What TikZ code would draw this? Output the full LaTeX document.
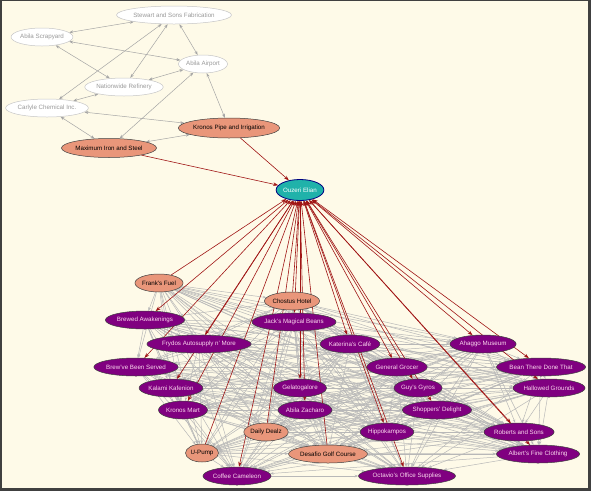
\documentclass[tikz,border=0pt]{standalone}
\usepackage{fontspec}
\setmainfont{Liberation Sans}
\usetikzlibrary{shapes.geometric,arrows.meta}
\definecolor{bgc}{HTML}{FEFAE8}
\definecolor{salm}{HTML}{E9967A}
\definecolor{purp}{HTML}{800080}
\definecolor{teal2}{HTML}{20B2AA}
\definecolor{redl}{HTML}{A01515}
\definecolor{greyl}{HTML}{B8B8B8}
\pgfdeclarelayer{back}
\pgfdeclarelayer{bg}
\pgfsetlayers{back,bg,main}
\tikzset{
  base/.style={ellipse, inner sep=0pt, minimum height=18pt, font=\fontsize{6.2}{7}\selectfont, line width=0.5pt},
  wnode/.style={base, draw=gray!45, fill=white, text=gray!80, minimum width=#1},
  snode/.style={base, draw=black!75, fill=salm, text=black, minimum width=#1},
  pnode/.style={base, draw=black!75, fill=purp, text=white!85!magenta, minimum width=#1},
  tnode/.style={base, draw=blue!50!black, line width=0.8pt, fill=teal2, text=white, minimum width=#1, minimum height=21pt},
  garr/.style={greyl!90!black, line width=0.5pt, {Stealth[length=4pt,width=3pt]}-{Stealth[length=4pt,width=3pt]}},
  web/.style={greyl, line width=0.5pt, -{Stealth[length=3.5pt,width=2.6pt]}},
  redone/.style={redl, line width=0.6pt, -{Stealth[length=5pt,width=3.6pt]}},
  redtwo/.style={redl, line width=0.6pt, {Stealth[length=5pt,width=3.6pt]}-{Stealth[length=5pt,width=3.6pt]}},
}
\begin{document}
\begin{tikzpicture}[x=1pt,y=-1pt]
\useasboundingbox (0,0) rectangle (591,491);
\begin{pgfonlayer}{back}
\fill[bgc] (0,0) rectangle (591,491);
\draw[black!75, line width=1pt] (0,0.5) -- (591,0.5);
\draw[black!75, line width=1.5pt] (0.75,0) -- (0.75,491);
\draw[black!75, line width=3pt] (589.5,0) -- (589.5,489.5) -- (0,489.5);
\end{pgfonlayer}
% top cluster
\node[wnode=111] (sts) at (174,15) {Stewart and Sons Fabrication};
\node[wnode=61] (scr) at (42,37) {Abila Scrapyard};
\node[wnode=49] (air) at (203,64) {Abila Airport};
\node[wnode=77] (nat) at (124,87) {Nationwide Refinery};
\node[wnode=81] (car) at (47,108) {Carlyle Chemical Inc.};
\node[snode=99, minimum height=20pt] (kpi) at (229,128) {Kronos Pipe and Irrigation};
\node[snode=93, minimum height=19pt] (mis) at (109,148) {Maximum Iron and Steel};
\node[tnode=47] (ouz) at (300,190) {Ouzeri Elian};
% bottom cluster
\node[snode=47] (ff) at (159,283) {Frank's Fuel};
\node[snode=54] (ch) at (292,301) {Chostus Hotel};
\node[pnode=77] (ba) at (145,320) {Brewed Awakenings};
\node[pnode=79] (jm) at (294,322) {Jack's Magical Beans};
\node[pnode=100] (fr) at (199,344) {Frydos Autosupply n' More};
\node[pnode=57] (kc) at (350,344) {Katerina's Café};
\node[pnode=63] (am) at (483,344) {Ahaggo Museum};
\node[pnode=80] (bb) at (136,367) {Brew've Been Served};
\node[pnode=59] (gg) at (397,367) {General Grocer};
\node[pnode=86] (bt) at (541,367) {Bean There Done That};
\node[pnode=63] (kk) at (171,388) {Kalami Kafenion};
\node[pnode=53] (ge) at (300,388) {Gelatogalore};
\node[pnode=46] (gy) at (418,388) {Guy's Gyros};
\node[pnode=69] (hg) at (549,388) {Hallowed Grounds};
\node[pnode=49] (km) at (183,410) {Kronos Mart};
\node[pnode=54] (az) at (305,410) {Abila Zacharo};
\node[pnode=67] (sd) at (437,410) {Shoppers' Delight};
\node[snode=43] (dd) at (266,432) {Daily Dealz};
\node[pnode=53] (hi) at (387,432) {Hippokampos};
\node[pnode=67] (rs) at (519,432) {Roberts and Sons};
\node[snode=33] (up) at (202,453) {U-Pump};
\node[snode=75] (dg) at (328,454) {Desafio Golf Course};
\node[pnode=80] (af) at (538,454) {Albert's Fine Clothing};
\node[pnode=64] (cc) at (237,476) {Coffee Cameleon};
\node[pnode=93] (oo) at (407,476) {Octavio's Office Supplies};
\begin{pgfonlayer}{bg}
% top edges
\foreach \a/\b in {scr/sts, scr/air, scr/nat, sts/car, sts/nat, sts/air, nat/air, nat/car, car/kpi, car/mis, air/mis, air/kpi, mis/kpi}
  \draw[garr] (\a) -- (\b);
% grey web
\foreach \a [count=\i] in {ff,ch,ba,jm,fr,kc,am,bb,gg,bt,kk,ge,gy,hg,km,az,sd,dd,hi,rs,up,dg,af,cc,oo} {
  \foreach \b [count=\j] in {ff,ch,ba,jm,fr,kc,am,bb,gg,bt,kk,ge,gy,hg,km,az,sd,dd,hi,rs,up,dg,af,cc,oo} {
    \ifnum\j>\i \draw[web] (\a) -- (\b); \fi
  }
}
% red edges
\foreach \a in {mis,kpi,ff,ch,dd,up,dg}
  \draw[redone] (\a) -- (ouz);
\foreach \a in {ba,jm,fr,kc,am,bb,gg,bt,kk,ge,gy,hg,km,az,sd,hi,rs,af,cc,oo}
  \draw[redtwo] (\a) -- (ouz);
\end{pgfonlayer}
\end{tikzpicture}
\end{document}
